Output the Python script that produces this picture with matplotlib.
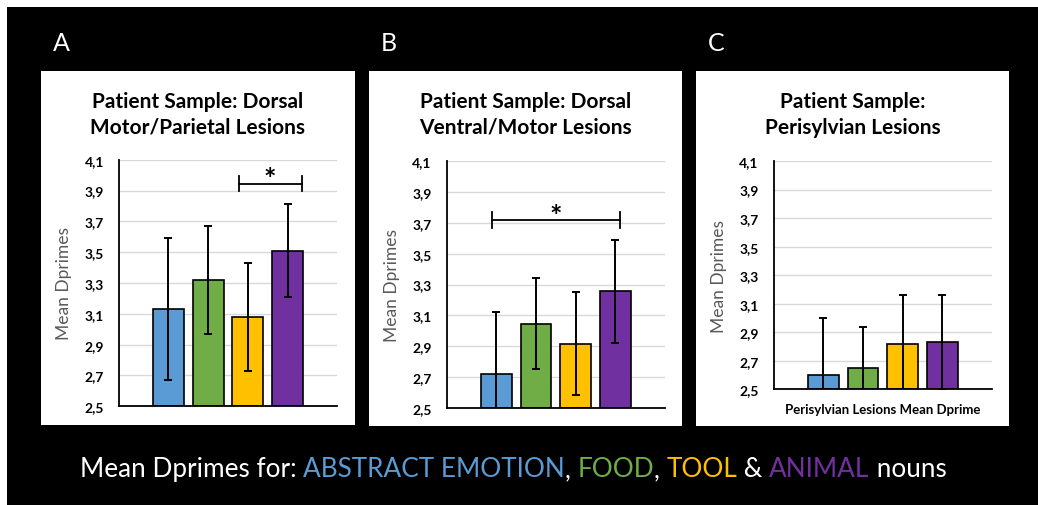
import matplotlib
matplotlib.use("Agg")
import matplotlib.pyplot as plt
from matplotlib.patches import Rectangle

# ---- data -------------------------------------------------------------
categories = ["ABSTRACT EMOTION", "FOOD", "TOOL", "ANIMAL"]
colors = ["#5B9BD5", "#70AD47", "#FFC000", "#7030A0"]

means_a = [3.13, 3.32, 3.08, 3.51]
errs_a = [0.46, 0.35, 0.35, 0.30]

means_b = [2.72, 3.045, 2.915, 3.255]
errs_b = [0.40, 0.295, 0.335, 0.335]

means_c = [2.60, 2.65, 2.82, 2.83]
errs_c = [0.40, 0.29, 0.34, 0.33]

yticks = [2.5, 2.7, 2.9, 3.1, 3.3, 3.5, 3.7, 3.9, 4.1]
ytick_labels = ["2,5", "2,7", "2,9", "3,1", "3,3", "3,5", "3,7", "3,9", "4,1"]

titles = ["Patient Sample: Dorsal\nMotor/Parietal Lesions",
          "Patient Sample: Dorsal\nVentral/Motor Lesions",
          "Patient Sample:\nPerisylvian Lesions"]
panel_letters = ["A", "B", "C"]
ylabel = "Mean Dprimes"
xlabel_c = "Perisylvian Lesions Mean Dprime"

# ---- figure -----------------------------------------------------------
W, H = 1038, 506
DPI = 100
FONT = "Lato"
plt.rcParams["font.family"] = [FONT, "DejaVu Sans"]

fig = plt.figure(figsize=(W / DPI, H / DPI), dpi=DPI, facecolor="white")


def frac_rect(x0, y0, x1, y1):
    """pixel box (top-left origin) -> figure fraction rect"""
    return [x0 / W, 1 - y1 / H, (x1 - x0) / W, (y1 - y0) / H]


# black backdrop
bg = fig.add_axes([0, 0, 1, 1], zorder=-10)
bg.set_axis_off()
bg.set_xlim(0, W)
bg.set_ylim(H, 0)
bg.add_patch(Rectangle((7, 8), W - 7, H - 8, facecolor="black", edgecolor="none"))

# white chart panels
panels = [(41, 72, 355, 426), (369, 72, 682, 427), (696, 72, 1009, 427)]
for (x0, y0, x1, y1) in panels:
    bg.add_patch(Rectangle((x0, y0), x1 - x0, y1 - y0, facecolor="white", edgecolor="none"))

# panel letters
for (x0, y0, x1, y1), letter in zip(panels, panel_letters):
    bg.text(x0 + 12, 51, letter, color="white", fontsize=18, ha="left", va="baseline")

# panel titles
for (x0, y0, x1, y1), title in zip(panels, titles):
    cx = (x0 + x1) / 2
    l1, l2 = title.split("\n")
    bg.text(cx, 107.5, l1, fontsize=15, fontweight="bold", ha="center", va="baseline", color="black")
    bg.text(cx, 133.5, l2, fontsize=15, fontweight="bold", ha="center", va="baseline", color="black")

axes_boxes = [(119.3, 160.7, 336.7, 407.3),
              (447.0, 162.3, 664.7, 408.7),
              (774.0, 162.0, 991.7, 390.3)]

series = [(means_a, errs_a), (means_b, errs_b), (means_c, errs_c)]

bar_w = 0.142
step = 0.1826
xpos = [0.5 + (i - 1.5) * step for i in range(len(categories))]

axes = []
for box, (m, e) in zip(axes_boxes, series):
    ax = fig.add_axes(frac_rect(*box))
    ax.set_facecolor("white")
    ax.set_xlim(0, 1)
    ax.set_ylim(2.5, 4.1)
    for y in yticks[1:]:
        ax.axhline(y, color="#D9D9D9", lw=1.0, zorder=0)
    ax.bar(xpos, [v - 2.5 for v in m], bottom=2.5, width=bar_w, color=colors,
           edgecolor="black", linewidth=1.2, zorder=2)
    ax.errorbar(xpos, m, yerr=e, fmt="none", ecolor="black", elinewidth=1.4,
                capsize=3.2, capthick=1.4, zorder=3)
    ax.set_yticks(yticks)
    ax.set_yticklabels(ytick_labels, fontsize=10, fontweight="bold")
    ax.tick_params(axis="y", length=0, pad=11)
    ax.set_xticks([])
    for s in ("top", "right"):
        ax.spines[s].set_visible(False)
    for s in ("left", "bottom"):
        ax.spines[s].set_linewidth(1.3)
        ax.spines[s].set_color("black")
    ax.set_ylabel(ylabel, fontsize=12.5, color="#595959")
    ax.yaxis.set_label_coords(-0.216, 0.5)
    axes.append(ax)

axes[2].set_xlabel(xlabel_c, fontsize=9.5, fontweight="bold", labelpad=10)


def bracket(ax, x0, x1, y, tick, star_x, star_y):
    ax.plot([x0, x1], [y, y], color="black", lw=1.3, zorder=4, clip_on=False)
    for x in (x0, x1):
        ax.plot([x, x], [y - tick, y + tick], color="black", lw=1.3, zorder=4, clip_on=False)
    ax.text(star_x, star_y, "*", fontsize=21, fontweight="bold", ha="center", va="center",
            zorder=4)


bracket(axes[0], 0.549, 0.839, 3.944, 0.047, 0.690, 3.975)
bracket(axes[1], 0.208, 0.793, 3.719, 0.050, 0.499, 3.747)

# ---- multi-coloured caption -----------------------------------------
pieces = [("Mean Dprimes for: ", "white"),
          (categories[0], colors[0]),
          (", ", "white"),
          (categories[1], colors[1]),
          (", ", "white"),
          (categories[2], colors[2]),
          (" & ", "white"),
          (categories[3], colors[3]),
          (" nouns", "white")]

cap_size = 18.8
renderer = fig.canvas.get_renderer()


def text_width(s):
    t = bg.text(0, 0, s, fontsize=cap_size)
    w = t.get_window_extent(renderer).width
    t.remove()
    return w


full = "".join(p for p, _ in pieces)
bar_w_ref = text_width("|")
total = text_width(full + "|") - bar_w_ref
x_start = 513 - total / 2
prefix = ""
for s, c in pieces:
    off = text_width(prefix + "|") - bar_w_ref if prefix else 0.0
    bg.text(x_start + off, 477, s, fontsize=cap_size, color=c, ha="left", va="baseline")
    prefix += s

fig.savefig("out.png", dpi=DPI, facecolor="white")
